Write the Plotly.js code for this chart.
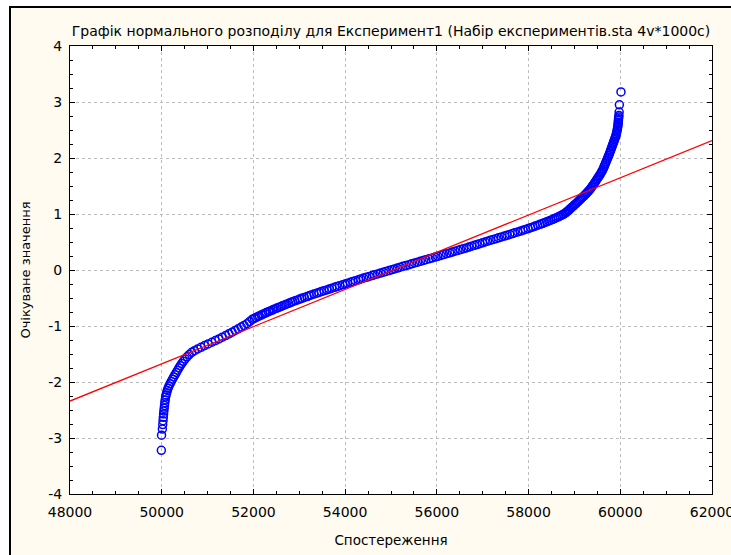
<!DOCTYPE html>
<html>
<head>
<meta charset="utf-8">
<script src="https://cdn.plot.ly/plotly-3.0.1.min.js"></script>
<style>html,body{margin:0;padding:0;background:#fff;}#chart{width:731px;height:555px;}</style>
</head>
<body>
<div id="chart"></div>
<script>
const observed = [
49992,49996,50014,50022,50029,50035,50041,50047,50054,50061,50068,50076,50084,50094,50108,50122,
50140,50160,50184,50209,50236,50262,50291,50320,50346,50375,50404,50436,50471,50509,50552,50600,
50655,50715,50785,50858,50935,51012,51094,51170,51248,51322,51395,51466,51535,51602,51668,51733,
51795,51858,51915,
51975,52020,52050,52095,52125,52170,52205,52250,52280,52330,52365,52415,52450,52500,52540,52590,
52630,52680,52720,52770,52815,52855,52905,52965,53010,53055,53110,53170,53215,53260,53320,53380,
53430,53480,53540,53600,53655,53710,53770,53820,53880,53945,54000,54050,54115,54170,54225,54290,
54340,54400,54465,54525,54590,54640,54710,54770,54835,54890,54955,55020,55075,55140,55200,55260,
55325,55395,55450,55515,55580,55640,55705,55760,55830,55900,55965,56020,56090,56145,56210,56280,
56335,56395,56460,56515,56580,56645,56700,56760,56820,56875,56935,56995,57050,57105,57165,57230,
57290,57345,57410,57475,57530,57590,57650,57700,57765,57825,57880,57930,57990,58045,58095,58145,
58200,58250,58300,58345,58395,58440,58485,58530,58570,58610,58650,58690,58725,58760,58790,58815,
58835,58860,58880,
58905,58930,58960,58985,59012,59040,59065,59090,59115,59140,59165,59190,59215,59240,59262,59285,
59308,59330,59352,59375,59398,59420,59440,59460,59480,59500,59520,59540,59560,59578,59595,59612,
59630,59645,59660,59675,59690,59705,59720,59735,59750,59765,59778,59792,59805,59818,59829,59840,
59851,59862,59873,59884,59895,59905,59914,59922,59930,59937,59943,59949,59953,59956,59959,59962,
59966,59970,59975,59980,60015
];
const expected = [
-3.22,-2.95,-2.84,-2.76,-2.69,-2.63,-2.57,-2.52,-2.47,-2.42,-2.37,-2.32,-2.27,-2.23,-2.19,-2.15,
-2.11,-2.07,-2.03,-1.99,-1.95,-1.91,-1.87,-1.83,-1.79,-1.75,-1.71,-1.67,-1.63,-1.59,-1.55,-1.51,
-1.47,-1.44,-1.41,-1.38,-1.35,-1.32,-1.29,-1.26,-1.23,-1.20,-1.17,-1.14,-1.11,-1.08,-1.05,-1.02,
-0.99,-0.96,-0.92,
-0.88,-0.865,-0.85,-0.835,-0.82,-0.805,-0.79,-0.775,-0.76,-0.745,-0.73,-0.715,-0.70,-0.685,-0.67,-0.655,
-0.64,-0.625,-0.61,-0.595,-0.58,-0.565,-0.55,-0.535,-0.52,-0.505,-0.49,-0.475,-0.46,-0.445,-0.43,-0.415,
-0.40,-0.385,-0.37,-0.355,-0.34,-0.325,-0.31,-0.295,-0.28,-0.265,-0.25,-0.235,-0.22,-0.205,-0.19,-0.175,
-0.16,-0.145,-0.13,-0.115,-0.10,-0.085,-0.07,-0.055,-0.04,-0.025,-0.01,0.005,0.02,0.035,0.05,0.065,
0.08,0.095,0.11,0.125,0.14,0.155,0.17,0.185,0.20,0.215,0.23,0.245,0.26,0.275,0.29,0.305,
0.32,0.335,0.35,0.365,0.38,0.395,0.41,0.425,0.44,0.455,0.47,0.485,0.50,0.515,0.53,0.545,
0.56,0.575,0.59,0.605,0.62,0.635,0.65,0.665,0.68,0.695,0.71,0.725,0.74,0.755,0.77,0.785,
0.80,0.815,0.83,0.845,0.86,0.875,0.89,0.905,0.92,0.935,0.95,0.965,0.98,0.995,1.01,1.025,
1.04,1.055,1.07,
1.09,1.11,1.13,1.15,1.17,1.19,1.21,1.23,1.25,1.27,1.29,1.31,1.33,1.35,1.37,1.39,
1.41,1.43,1.455,1.48,1.505,1.53,1.555,1.58,1.605,1.63,1.655,1.68,1.705,1.73,1.755,1.78,
1.81,1.84,1.87,1.90,1.93,1.96,1.99,2.02,2.05,2.08,2.11,2.14,2.17,2.20,2.225,2.25,
2.275,2.30,2.325,2.35,2.375,2.40,2.43,2.46,2.49,2.52,2.55,2.58,2.61,2.64,2.67,2.70,
2.73,2.76,2.82,2.95,3.18
];
// Fitted normal line (end points)
const lineX = [48000, 62000];
const lineY = [-2.34, 2.31];

// Axis ticks
const xTicks = [48000, 50000, 52000, 54000, 56000, 58000, 60000, 62000];
const xTickLabels = ["48000", "50000", "52000", "54000", "56000", "58000", "60000", "62000"];
const yTicks = [-4, -3, -2, -1, 0, 1, 2, 3, 4];
const yTickLabels = ["-4", "-3", "-2", "-1", "0", "1", "2", "3", "4"];

const titleText = "Графік нормального розподілу для Експеримент1 (Набір експериментів.sta 4v*1000c)";
const xTitle = "Спостереження";
const yTitle = "Очікуване значення";

const cream = "#FFFBF0";
const fontFam = "DejaVu Sans, Arial, sans-serif";

const traces = [
  {x: observed, y: expected, type: "scatter", mode: "markers",
   marker: {symbol: "circle-open", size: 8, color: "#0000FF", line: {width: 1.5, color: "#0000FF"}},
   hoverinfo: "skip"},
  {x: lineX, y: lineY, type: "scatter", mode: "lines",
   line: {color: "#FF0000", width: 1.3}, hoverinfo: "skip"}
];

const axisCommon = {
  showline: true, linecolor: "#000", linewidth: 1, mirror: "allticks",
  ticks: "inside", ticklen: 5, tickwidth: 1, tickcolor: "#000",
  showgrid: true, gridcolor: "#BDBDBD", griddash: "dot", gridwidth: 1,
  zeroline: false, tickfont: {family: fontFam, size: 14, color: "#000"},
  fixedrange: true, tickmode: "array", ticklabeloverflow: "allow"
};

const layout = {
  width: 731, height: 555, autosize: false,
  margin: {l: 70, r: 19, t: 46, b: 61, pad: 0},
  paper_bgcolor: "#FFFFFF", plot_bgcolor: "#FFFFFF",
  showlegend: false,
  title: {text: titleText, font: {family: fontFam, size: 14, color: "#000"},
          xref: "paper", x: 0.5, xanchor: "center", yref: "container", y: 1 - 31/555, yanchor: "middle"},
  xaxis: Object.assign({}, axisCommon, {
    range: [48000, 62000], tickvals: xTicks, ticktext: xTickLabels, ticklabelstandoff: 5,
    minor: {tickmode: "linear", tick0: 48000, dtick: 500, ticks: "inside", ticklen: 3, tickcolor: "#000", showgrid: false},
    title: {text: xTitle, font: {family: fontFam, size: 13.5, color: "#000"}, standoff: 16}
  }),
  yaxis: Object.assign({}, axisCommon, {
    range: [-4, 4], tickvals: yTicks, ticktext: yTickLabels, ticklabelstandoff: 4,
    minor: {tickmode: "linear", tick0: 0, dtick: 0.25, ticks: "inside", ticklen: 3, tickcolor: "#000", showgrid: false},
    title: {text: yTitle, font: {family: fontFam, size: 13, color: "#000"}, standoff: 14}
  }),
  shapes: [
    {type: "rect", xref: "paper", yref: "paper", layer: "below",
     x0: (10 - 70) / 642, x1: (740 - 70) / 642, y0: (494 - 565) / 448, y1: (494 - 7) / 448,
     fillcolor: cream, line: {color: "#000", width: 2}},
    {type: "rect", xref: "paper", yref: "paper", layer: "below",
     x0: 0, x1: 1, y0: 0, y1: 1, fillcolor: "#FFFFFF", line: {width: 0}}
  ]
};

Plotly.newPlot("chart", traces, layout, {displayModeBar: false, staticPlot: true});
</script>
</body>
</html>
